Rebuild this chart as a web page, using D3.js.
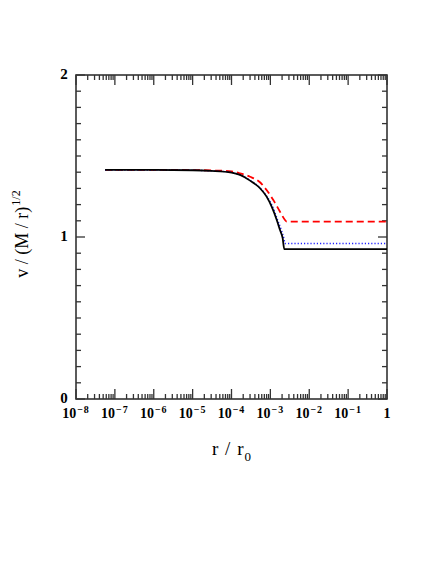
<!DOCTYPE html>
<html>
<head>
<meta charset="utf-8">
<script src="https://cdn.jsdelivr.net/npm/d3@7"></script>
<style>
  html, body { margin: 0; padding: 0; background: #fff; }
  #container { width: 436px; height: 564px; }
</style>
</head>
<body>
<div id="container"></div>
<script>
// 曲线数据
const rBlack = [5.6e-8, 1e-6, 1e-5, 3e-5, 1e-4, 1.66e-4, 3e-4, 5.4e-4, 8e-4, 1.08e-3, 1.46e-3, 1.77e-3, 2.07e-3, 2.28e-3, 1];
const vBlack = [1.414, 1.414, 1.412, 1.408, 1.398, 1.383, 1.348, 1.301, 1.249, 1.187, 1.105, 1.043, 0.993, 0.925, 0.925];

const rBlue = [5.6e-8, 1e-6, 1e-5, 3e-5, 1e-4, 1.66e-4, 3e-4, 5.4e-4, 8e-4, 1.13e-3, 1.54e-3, 1.93e-3, 2.24e-3, 2.38e-3, 1];
const vBlue = [1.414, 1.414, 1.412, 1.408, 1.399, 1.384, 1.350, 1.304, 1.253, 1.19, 1.105, 1.04, 0.99, 0.96, 0.96];

const rRed = [5.6e-8, 1e-6, 1e-5, 3e-5, 1e-4, 1.66e-4, 3e-4, 5.4e-4, 8e-4, 1.19e-3, 1.77e-3, 2.38e-3, 2.63e-3, 1];
const vRed = [1.414, 1.414, 1.413, 1.411, 1.405, 1.393, 1.372, 1.338, 1.290, 1.228, 1.156, 1.105, 1.095, 1.095];

// 刻度
const xMajorExp = [-8, -7, -6, -5, -4, -3, -2, -1, 0];
const yMajor = [0, 1, 2];

const width = 436;
const height = 564;
const marginLeft = 76;
const marginRight = 49;   // 436 - 387
const marginTop = 75;
const marginBottom = 165; // 564 - 399

const svg = d3.select("#container")
  .append("svg")
  .attr("width", width)
  .attr("height", height)
  .attr("viewBox", [0, 0, width, height]);

const x = d3.scaleLog()
  .domain([1e-8, 1])
  .range([marginLeft, width - marginRight]);

const y = d3.scaleLinear()
  .domain([0, 2])
  .range([height - marginBottom, marginTop]);

const x0 = marginLeft, x1 = width - marginRight;
const y0 = height - marginBottom, y1 = marginTop;

// 次刻度
const xMinor = [];
for (let e = -8; e < 0; e++) {
  for (let k = 2; k <= 9; k++) xMinor.push(k * Math.pow(10, e));
}
const yMinor = d3.range(0, 21).map(i => i / 10).filter(v => !yMajor.includes(v));
const xMajor = xMajorExp.map(e => Math.pow(10, e));

const axisColor = "#333";
const tickG = svg.append("g")
  .attr("stroke", axisColor)
  .attr("stroke-width", 1.3);

// 下方与上方的刻度（朝内）
function xTicks(vals, len) {
  tickG.append("g").selectAll("line").data(vals).join("line")
    .attr("x1", d => x(d)).attr("x2", d => x(d))
    .attr("y1", y0).attr("y2", y0 - len);
  tickG.append("g").selectAll("line").data(vals).join("line")
    .attr("x1", d => x(d)).attr("x2", d => x(d))
    .attr("y1", y1).attr("y2", y1 + len);
}
function yTicks(vals, len) {
  tickG.append("g").selectAll("line").data(vals).join("line")
    .attr("x1", x0).attr("x2", x0 + len)
    .attr("y1", d => y(d)).attr("y2", d => y(d));
  tickG.append("g").selectAll("line").data(vals).join("line")
    .attr("x1", x1).attr("x2", x1 - len)
    .attr("y1", d => y(d)).attr("y2", d => y(d));
}
xTicks(xMajor, 10);
xTicks(xMinor, 5);
yTicks(yMajor, 9);
yTicks(yMinor, 5);

// 边框
svg.append("rect")
  .attr("x", x0).attr("y", y1)
  .attr("width", x1 - x0).attr("height", y0 - y1)
  .attr("fill", "none")
  .attr("stroke", axisColor)
  .attr("stroke-width", 1.6);

// 曲线
const line = d3.line()
  .curve(d3.curveMonotoneX)
  .x(d => x(d[0]))
  .y(d => y(d[1]));

const series = [
  { r: rRed, v: vRed, color: "#ff0000", dash: "7,4", w: 1.8 },
  { r: rBlue, v: vBlue, color: "#2222ff", dash: "1.2,2", w: 1.4 },
  { r: rBlack, v: vBlack, color: "#000", dash: null, w: 1.8 }
];

series.forEach(s => {
  svg.append("path")
    .datum(d3.zip(s.r, s.v))
    .attr("fill", "none")
    .attr("stroke", s.color)
    .attr("stroke-width", s.w)
    .attr("stroke-dasharray", s.dash)
    .attr("stroke-linejoin", "round")
    .attr("d", line);
});

// 刻度标签
const font = "'Liberation Serif', 'Times New Roman', serif";
const xLab = svg.append("g")
  .attr("font-family", font)
  .attr("font-weight", "bold")
  .attr("font-size", 14)
  .attr("fill", "#000")
  .attr("text-anchor", "middle");

xMajorExp.forEach(e => {
  const t = xLab.append("text")
    .attr("x", x(Math.pow(10, e)))
    .attr("y", y0 + 19);
  if (e === 0) {
    t.text("1");
  } else {
    t.append("tspan").text("10");
    t.append("tspan")
      .attr("font-size", 10)
      .attr("dx", 1)
      .attr("dy", -5)
      .attr("letter-spacing", 1)
      .text("\u2212" + (-e));
  }
});

svg.append("g")
  .attr("font-family", font)
  .attr("font-weight", "bold")
  .attr("font-size", 15)
  .attr("text-anchor", "middle")
  .selectAll("text").data(yMajor).join("text")
  .attr("x", x0 - 12)
  .attr("y", d => y(d) + 4)
  .text(d => d);

// 坐标轴标题
const xt = svg.append("text")
  .attr("font-family", font)
  .attr("font-size", 19)
  .attr("text-anchor", "middle")
  .attr("letter-spacing", 1)
  .attr("x", 232)
  .attr("y", 455);
xt.append("tspan").text("r / r");
xt.append("tspan").attr("font-size", 13).attr("dy", 6).text("0");

const yt = svg.append("text")
  .attr("font-family", font)
  .attr("font-size", 18)
  .attr("text-anchor", "middle")
  .attr("transform", "translate(28,234) rotate(-90)");
yt.append("tspan").text("v / (M / r)");
yt.append("tspan").attr("font-size", 12).attr("dx", 1).attr("dy", -8).text("1/2");
</script>
</body>
</html>
